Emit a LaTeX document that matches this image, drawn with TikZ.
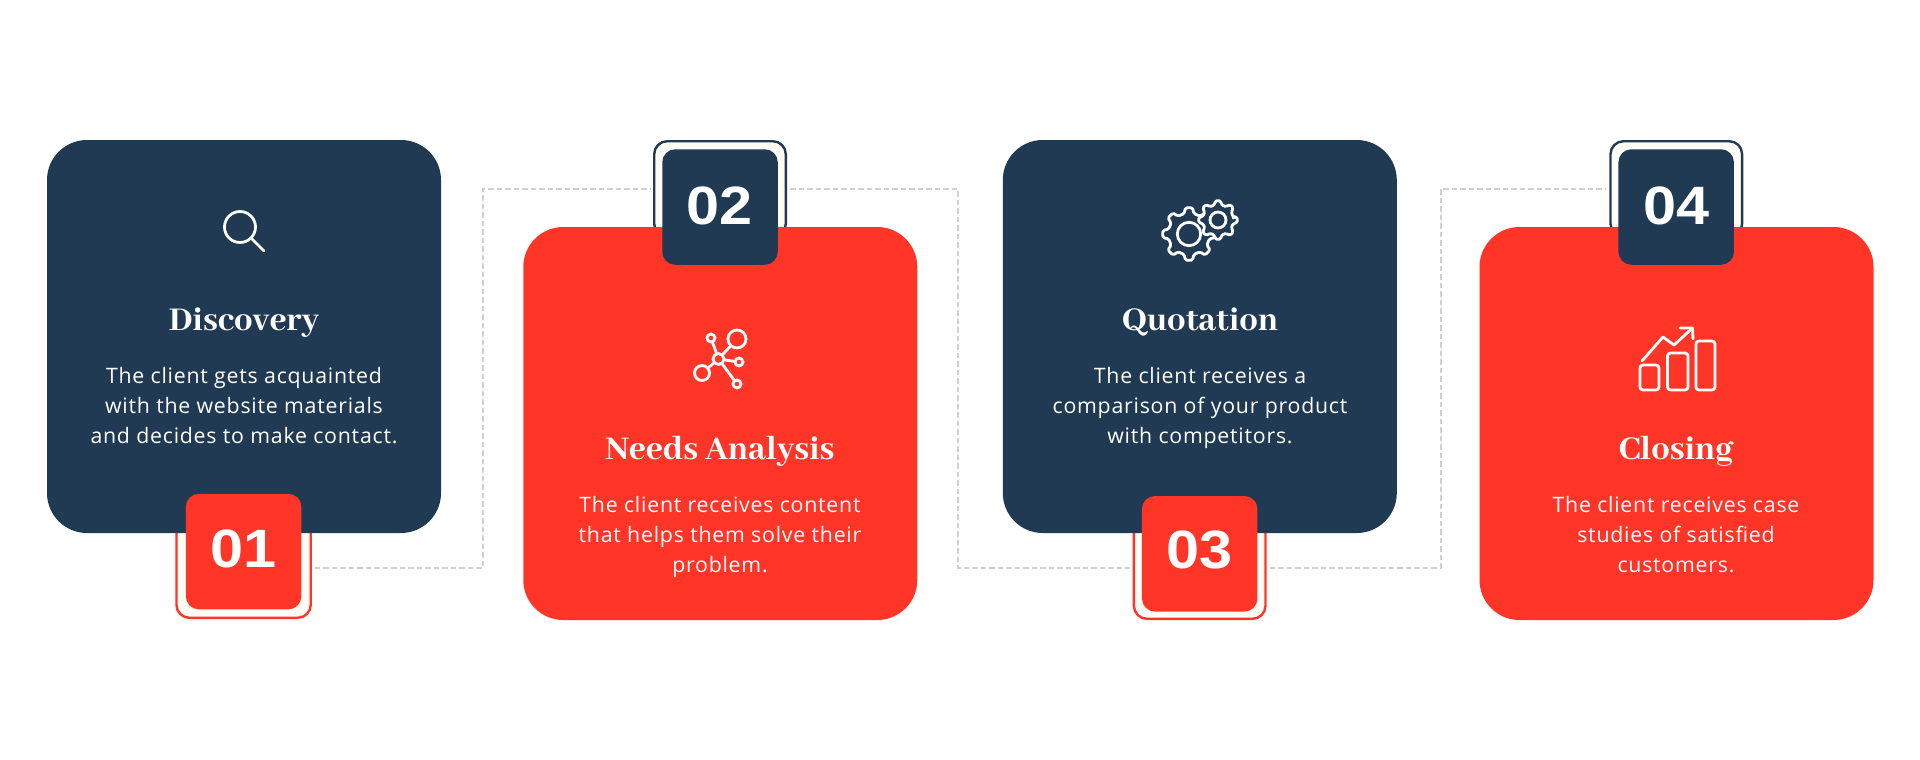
\documentclass[tikz,border=0pt]{standalone}
\usepackage{fontspec}
\setmainfont{Open Sans}[LetterSpace=3.6]
\newfontfamily\titlefont{Abhaya Libre}[UprightFont=* ExtraBold,BoldFont=* ExtraBold]
\newfontfamily\numfont{Liberation Sans}[FakeStretch=1.1]
\definecolor{navy}{HTML}{203A53}
\definecolor{redc}{HTML}{FF3528}
\definecolor{cream}{HTML}{FFFCF5}
\definecolor{dashc}{HTML}{D0D0D0}
\tikzset{
  card/.style={rounded corners=40pt,minimum width=394pt,minimum height=393pt,inner sep=0pt,draw=none},
  outerbadge/.style={rounded corners=13pt,inner sep=0pt,fill=cream,line width=2.4pt},
  numbadge/.style={rounded corners=13pt,minimum width=115.5pt,minimum height=115.5pt,inner sep=0pt},
  numtext/.style={text=white,inner sep=0pt,anchor=base,font=\fontsize{54}{54}\selectfont\numfont\bfseries},
  titletext/.style={text=white,inner sep=0pt,anchor=base,font=\fontsize{36.5}{37}\selectfont\titlefont},
  bodytext/.style={text=white,inner sep=0pt,anchor=base,align=center,font=\fontsize{21.3}{30}\selectfont},
  conn/.style={draw=dashc,line width=2pt,dash pattern=on 5.5pt off 3pt},
  icon/.style={draw=white,line width=2.8pt,line cap=round,line join=round},
  iconnode/.style={circle,draw=white,line width=2.8pt,inner sep=0pt},
}
\newcommand{\gearpath}[3]{% outer, root, hole
  \draw[icon,fill=navy,rounded corners=1.6pt] (-10:#2)
    \foreach \a in {0,45,...,315}{ -- (\a-13:#2) -- (\a-8:#1) -- (\a+8:#1) -- (\a+13:#2) } -- cycle;
  \draw[icon] (0,0) circle (#3);
}
\begin{document}
\begin{tikzpicture}[x=1pt,y=-1pt]
\useasboundingbox (0,0) rectangle (1920,760);
\fill[white] (0,0) rectangle (1920,760);
% lanes
\coordinate (l1t) at (483,189);
\coordinate (l1b) at (483,568);
\coordinate (l2t) at (958,189);
\coordinate (l2b) at (958,568);
\coordinate (l3t) at (1440.5,189);
\coordinate (l3b) at (1440.5,568);
% outer badges
\node[outerbadge,draw=redc,minimum width=134.3pt,minimum height=99.6pt] (o1) at (243.6,568) {};
\node[outerbadge,draw=navy,minimum width=131.6pt,minimum height=95.6pt] (o2) at (720,189) {};
\node[outerbadge,draw=redc,minimum width=131.6pt,minimum height=101.6pt] (o3) at (1199.7,568) {};
\node[outerbadge,draw=navy,minimum width=131.6pt,minimum height=95.6pt] (o4) at (1676.3,189) {};
% connectors
\draw[conn,shorten <=3pt,shorten >=3pt] (o1.east) -- (l1b) -- (l1t) -- (o2.west);
\draw[conn,shorten <=3pt,shorten >=3pt] (o2.east) -- (l2t) -- (l2b) -- (o3.west);
\draw[conn,shorten <=3pt,shorten >=3pt] (o3.east) -- (l3b) -- (l3t) -- (o4.west);
% cards
\node[card,fill=navy] (c1) at (244,336.5) {};
\node[card,fill=redc] (c2) at (720.3,423.5) {};
\node[card,fill=navy] (c3) at (1199.8,336.5) {};
\node[card,fill=redc] (c4) at (1676.5,423.5) {};
% number badges
\node[numbadge,fill=redc] (n1) at (243.6,551.6) {};
\node[numbadge,fill=navy] (n2) at (720,207) {};
\node[numbadge,fill=redc] (n3) at (1199.7,553.8) {};
\node[numbadge,fill=navy] (n4) at (1676.2,207) {};
\node[numtext] (t01) at (243.6,567) {01};
\node[numtext] (t02) at (720,224.5) {02};
\node[numtext] (t03) at (1199.7,568.5) {03};
\node[numtext] (t04) at (1676.2,224.5) {04};
% titles
\node[titletext] (h1) at (244,330) {Discovery};
\node[titletext] (h2) at (720,459) {Needs Analysis};
\node[titletext] (h3) at (1200,330) {Quotation};
\node[titletext] (h4) at (1676,459.5) {Closing};
% bodies
\node[bodytext] (b1) at (244,443) {The client gets acquainted\\with the website materials\\and decides to make contact.};
\node[bodytext] (b2) at (720,572) {The client receives content\\that helps them solve their\\problem.};
\node[bodytext] (b3) at (1200,443) {The client receives a\\comparison of your product\\with competitors.};
\node[bodytext] (b4) at (1676,572) {The client receives case\\studies of satisfied\\customers.};
% search icon
\node[iconnode,minimum size=31pt] (lens) at (240,227) {};
\coordinate (handle) at (264,251);
\draw[icon] (lens.south east) -- (handle);
% network icon
\node[iconnode,minimum size=11pt] (hub) at (718.5,359) {};
\node[iconnode,minimum size=18pt] (nbig) at (737,339) {};
\node[iconnode,minimum size=8pt] (ntop) at (711,338) {};
\node[iconnode,minimum size=8pt] (nright) at (739,362) {};
\node[iconnode,minimum size=8pt] (nbot) at (737,384) {};
\node[iconnode,minimum size=15pt] (nleft) at (702,373) {};
\draw[icon] (hub) -- (nbig);
\draw[icon] (hub) -- (ntop);
\draw[icon] (hub) -- (nright);
\draw[icon] (hub) -- (nbot);
\draw[icon] (hub) -- (nleft);
% gears
\begin{scope}[shift={(1189,234)}]
\gearpath{26.5}{21}{11.7}
\end{scope}
\begin{scope}[shift={(1218,220)}]
\gearpath{19.5}{15.5}{8}
\end{scope}
% chart icon
\draw[icon,rounded corners=3pt] (1640,365) rectangle (1659,390);
\draw[icon,rounded corners=3pt] (1667.5,353) rectangle (1688,390);
\draw[icon,rounded corners=3pt] (1696,341) rectangle (1715,390);
\draw[icon] (1642,361) -- (1663,337) -- (1674,345) -- (1692.5,328);
\draw[icon] (1680,328) -- (1692.5,328) -- (1693,339);
\end{tikzpicture}
\end{document}
